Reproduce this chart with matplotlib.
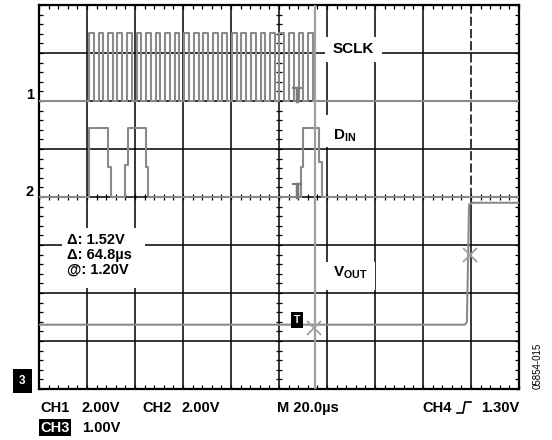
#!/usr/bin/env python3
# -*- coding: utf-8 -*-

'''
Oscilloscope capture: SCLK, DIN and VOUT of a DAC update.
'''

import numpy as np
import matplotlib
matplotlib.use('Agg')
import matplotlib.pyplot as plt
from matplotlib.patches import Rectangle
from matplotlib.lines import Line2D
from matplotlib.ticker import MultipleLocator

plt.rcParams['font.family'] = ['Liberation Sans', 'DejaVu Sans']
plt.rcParams['mathtext.fontset'] = 'custom'
plt.rcParams['mathtext.rm'] = 'Liberation Sans'
plt.rcParams['mathtext.bf'] = 'Liberation Sans:bold'

# scope settings
us_per_div = 20.0
ch1_v_div, ch2_v_div, ch3_v_div = 2.0, 2.0, 1.0
ch1_gnd, ch2_gnd, ch3_gnd = 6.0, 4.0, 0.19   # ground markers, divisions from bottom

# CH1 SCLK, edge times in us, high level in V
sclk_rise = [20.8, 24.8, 28.7, 32.7, 36.7, 40.7, 44.6, 48.6, 52.6, 56.5, 60.5, 64.5,
             68.4, 72.4, 76.4, 80.4, 84.3, 88.3, 92.3, 96.2, 100.2, 104.2, 108.2, 112.1]
sclk_fall = [22.8, 26.8, 30.7, 34.7, 38.7, 42.7, 46.6, 50.6, 54.6, 58.5, 62.5, 66.5,
             70.4, 74.4, 78.4, 82.4, 86.3, 90.3, 94.3, 98.2, 102.2, 106.2, 110.2, 114.1]
sclk_high = 2.85

# CH2 DIN
din_t = [0, 20.8, 20.8, 28.8, 28.8, 30.0, 30.0, 35.8, 35.8, 37.1, 37.1, 44.6, 44.6, 45.4,
         45.4, 109.2, 109.2, 110.0, 110.0, 116.7, 116.7, 117.9, 117.9, 200]
din_v = [0, 0, 2.88, 2.88, 1.25, 1.25, 0, 0, 1.33, 1.33, 2.88, 2.88, 1.25, 1.25,
         0, 0, 1.25, 1.25, 2.88, 2.88, 1.46, 1.46, 0, 0]

# CH3 VOUT
vout_t = [0, 177.5, 178.3, 179.2, 180.8, 200]
vout_v = [1.15, 1.15, 1.21, 3.65, 3.69, 3.69]

# cursors
cursor_line_t = 115.0
cursor_t = [114.6, 179.4]
cursor_v = [1.08, 2.60]
trig_mark_t = 107.5

W, H = 552, 440
L, R, T, B = 39, 519, 5, 389


def px2t(x):
    return (x - L) / 48.0 * us_per_div


def px2d(y):
    return (B - y) / 48.0


def fx(x):
    return x / W


def fy(y):
    return 1 - y / H


def sclk_wave():
    t, v = [0.0], [0.0]
    for r, f in zip(sclk_rise, sclk_fall):
        t += [r, r, f, f]
        v += [0.0, sclk_high, sclk_high, 0.0]
    t.append(200.0)
    v.append(0.0)
    return np.array(t), np.array(v)


fig = plt.figure(figsize=(W / 100, H / 100), dpi=100)
ax = fig.add_axes([fx(L), 1 - B / H, (R - L) / W, (B - T) / H])
ax.set_xlim(0, 10 * us_per_div)
ax.set_ylim(0, 8)

# grid
for i in range(1, 10):
    x = i * us_per_div
    if i == 9:
        ax.plot([x, x], [0, 4], color='black', lw=1.1, zorder=1)
        ax.plot([x, x], [4, 8], color='black', lw=1.1, ls=(0, (6, 2)), zorder=1)
    else:
        ax.axvline(x, color='black', lw=1.1, zorder=1)
for j in range(1, 8):
    ax.axhline(j, color='black', lw=1.1, zorder=1)

# border ticks
ax.set_xticks([])
ax.set_yticks([])
ax.xaxis.set_minor_locator(MultipleLocator(us_per_div / 5))
ax.yaxis.set_minor_locator(MultipleLocator(0.2))
ax.tick_params(which='minor', direction='in', length=3, width=0.9,
               top=True, right=True, labelbottom=False, labelleft=False)
for s in ax.spines.values():
    s.set_linewidth(1.6)

# ticks on the centre cross
cx = np.arange(0, 200.1, us_per_div / 5)
cy = np.arange(0, 8.01, 0.2)
ax.plot(cx, np.full_like(cx, 4.0), ls='none', marker='|', ms=4.5, mew=0.9, color='black', zorder=1)
ax.plot(np.full_like(cy, 100.0), cy, ls='none', marker='_', ms=4.5, mew=0.9, color='black', zorder=1)

# white label boxes
for x0, y0, x1, y1 in [(325, 37, 382, 62), (325, 115, 362, 147), (325, 262, 375, 290), (62, 228, 145, 288)]:
    ax.add_patch(Rectangle((px2t(x0), px2d(y1)), px2t(x1) - px2t(x0), px2d(y0) - px2d(y1),
                           facecolor='white', edgecolor='none', zorder=2))

trace = dict(color='#8a8a8a', lw=1.5, zorder=3)
st, sv = sclk_wave()
ax.plot(st, ch1_gnd + sv / ch1_v_div, **trace)
ax.plot(din_t, ch2_gnd + np.array(din_v) / ch2_v_div, **trace)
ax.plot(vout_t, ch3_gnd + np.array(vout_v) / ch3_v_div, **trace)

# cursors
ax.axvline(cursor_line_t, color='#a0a0a0', lw=1.6, zorder=3)
ax.plot(cursor_t, ch3_gnd + np.array(cursor_v) / ch3_v_div, ls='none', marker='x',
        ms=10, mew=1.3, color='#a0a0a0', zorder=4)

# channel trigger markers
for g in (ch1_gnd, ch2_gnd):
    ax.plot([trig_mark_t - 1.6, trig_mark_t + 1.6], [g + 0.27, g + 0.27], color='#7a7a7a', lw=1.5, zorder=4)
    ax.plot([trig_mark_t, trig_mark_t], [g, g + 0.27], color='#7a7a7a', lw=2.5, zorder=4)
ax.text(trig_mark_t, px2d(320), 'T', color='white', fontsize=7.5, fontweight='bold',
        ha='center', va='center', zorder=5,
        bbox=dict(facecolor='black', edgecolor='none', boxstyle='square,pad=0.25'))

# channel labels inside the screen
ax.text(px2t(333), px2d(49), 'SCLK', fontsize=11, fontweight='bold', va='center', zorder=5)
ax.text(px2t(333), px2d(136), r'$\mathbf{D}_{\mathbf{IN}}$', fontsize=11, va='center', zorder=5)
ax.text(px2t(333), px2d(273), r'$\mathbf{V}_{\mathbf{OUT}}$', fontsize=11, va='center', zorder=5)
ax.text(px2t(67), px2d(255), u'\u0394: 1.52V\n\u0394: 64.8\u00b5s\n@: 1.20V', fontsize=10.5,
        fontweight='bold', va='center', linespacing=1.05, zorder=5)

# ground markers
fig.text(fx(34), fy(95), '1', fontsize=10.5, fontweight='bold', ha='right', va='center')
fig.text(fx(34), fy(192), '2', fontsize=10.5, fontweight='bold', ha='right', va='center')
fig.text(fx(22.5), fy(381), '3', fontsize=8.5, fontweight='bold', color='white', ha='center', va='center',
         bbox=dict(facecolor='black', edgecolor='none', boxstyle='square,pad=0.5'))

# readout
row1, row2 = fy(408), fy(427.5)
bold = dict(fontsize=10.5, fontweight='bold', va='center')
fig.text(fx(40), row1, 'CH1', **bold)
fig.text(fx(82), row1, '2.00V', **bold)
fig.text(fx(142), row1, 'CH2', **bold)
fig.text(fx(182), row1, '2.00V', **bold)
fig.text(fx(277), row1, u'M 20.0\u00b5s', **bold)
fig.text(fx(422), row1, 'CH4', **bold)
fig.text(fx(519), row1, '1.30V', ha='right', fontsize=10.5, fontweight='bold', va='center')
fig.text(fx(40), row2, 'CH3', color='white', fontsize=10.5, fontweight='bold', va='center',
         bbox=dict(facecolor='black', edgecolor='none', boxstyle='square,pad=0.08'))
fig.text(fx(82), row2, '1.00V', **bold)
fig.add_artist(Line2D([fx(457), fx(463), fx(465), fx(471)], [fy(413), fy(413), fy(402), fy(402)],
                      color='black', lw=1.2))

fig.text(fx(538), fy(366), '05854-015', fontsize=7, rotation=90, ha='center', va='center')

fig.savefig('out.png', dpi=100, facecolor='white')
